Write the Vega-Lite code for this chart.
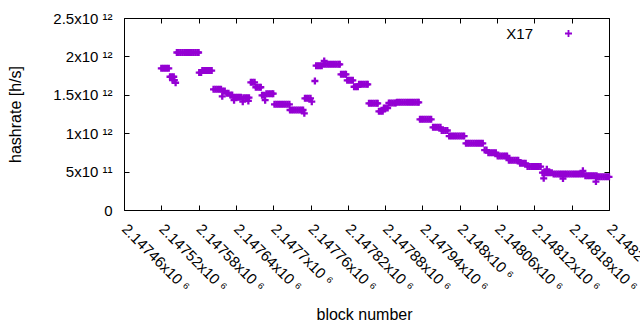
{
  "$schema": "https://vega.github.io/schema/vega-lite/v6.json",
  "width": 485,
  "height": 192,
  "autosize": "none",
  "padding": {"left": 124, "top": 18, "right": 31, "bottom": 120},
  "background": "white",
  "config": {
    "font": "Liberation Sans",
    "view": {"stroke": "black", "strokeWidth": 1},
    "axis": {
      "domain": false,
      "grid": false,
      "tickColor": "black",
      "tickSize": -5,
      "labelColor": "black",
      "titleColor": "black",
      "labelFontSize": 15,
      "titleFontSize": 16,
      "titleFontWeight": "normal",
      "labelOverlap": false,
      "labelBound": false,
      "labelFlush": false
    }
  },
  "data": {"values": [
    {"b": 2147520, "h": 1.845e12}, {"b": 2147523, "h": 1.845e12}, {"b": 2147526, "h": 1.845e12}, {"b": 2147529, "h": 1.845e12}, {"b": 2147532, "h": 1.845e12},
    {"b": 2147534, "h": 1.735e12}, {"b": 2147537, "h": 1.735e12}, {"b": 2147540, "h": 1.735e12},
    {"b": 2147538, "h": 1.69e12}, {"b": 2147541, "h": 1.69e12},
    {"b": 2147543, "h": 1.657e12},
    {"b": 2147545, "h": 2.051e12}, {"b": 2147548, "h": 2.051e12}, {"b": 2147551, "h": 2.051e12}, {"b": 2147554, "h": 2.051e12}, {"b": 2147557, "h": 2.051e12}, {"b": 2147560, "h": 2.051e12}, {"b": 2147563, "h": 2.051e12}, {"b": 2147566, "h": 2.051e12}, {"b": 2147569, "h": 2.051e12}, {"b": 2147572, "h": 2.051e12}, {"b": 2147575, "h": 2.051e12}, {"b": 2147578, "h": 2.051e12}, {"b": 2147580, "h": 2.051e12},
    {"b": 2147581, "h": 1.79e12}, {"b": 2147584, "h": 1.79e12},
    {"b": 2147586, "h": 1.816e12}, {"b": 2147589, "h": 1.816e12}, {"b": 2147592, "h": 1.816e12}, {"b": 2147595, "h": 1.816e12}, {"b": 2147598, "h": 1.816e12}, {"b": 2147601, "h": 1.816e12},
    {"b": 2147604, "h": 1.571e12}, {"b": 2147607, "h": 1.571e12}, {"b": 2147610, "h": 1.571e12}, {"b": 2147613, "h": 1.571e12}, {"b": 2147616, "h": 1.571e12},
    {"b": 2147618, "h": 1.48e12},
    {"b": 2147619, "h": 1.549e12}, {"b": 2147622, "h": 1.549e12},
    {"b": 2147625, "h": 1.519e12}, {"b": 2147628, "h": 1.519e12},
    {"b": 2147631, "h": 1.497e12}, {"b": 2147634, "h": 1.497e12},
    {"b": 2147636, "h": 1.467e12}, {"b": 2147639, "h": 1.467e12}, {"b": 2147642, "h": 1.467e12}, {"b": 2147645, "h": 1.467e12}, {"b": 2147648, "h": 1.467e12},
    {"b": 2147637, "h": 1.43e12},
    {"b": 2147651, "h": 1.41e12},
    {"b": 2147652, "h": 1.462e12}, {"b": 2147655, "h": 1.462e12}, {"b": 2147658, "h": 1.462e12}, {"b": 2147661, "h": 1.462e12},
    {"b": 2147660, "h": 1.42e12},
    {"b": 2147664, "h": 1.663e12}, {"b": 2147667, "h": 1.663e12}, {"b": 2147670, "h": 1.663e12},
    {"b": 2147672, "h": 1.598e12}, {"b": 2147675, "h": 1.598e12}, {"b": 2147678, "h": 1.598e12}, {"b": 2147680, "h": 1.598e12},
    {"b": 2147682, "h": 1.493e12}, {"b": 2147685, "h": 1.493e12},
    {"b": 2147687, "h": 1.43e12},
    {"b": 2147689, "h": 1.515e12}, {"b": 2147692, "h": 1.515e12}, {"b": 2147695, "h": 1.515e12}, {"b": 2147698, "h": 1.515e12}, {"b": 2147700, "h": 1.515e12},
    {"b": 2147702, "h": 1.376e12}, {"b": 2147705, "h": 1.376e12}, {"b": 2147708, "h": 1.376e12}, {"b": 2147711, "h": 1.376e12}, {"b": 2147714, "h": 1.376e12}, {"b": 2147717, "h": 1.376e12}, {"b": 2147720, "h": 1.376e12}, {"b": 2147723, "h": 1.376e12}, {"b": 2147726, "h": 1.376e12},
    {"b": 2147727, "h": 1.302e12}, {"b": 2147730, "h": 1.302e12}, {"b": 2147733, "h": 1.302e12}, {"b": 2147736, "h": 1.302e12}, {"b": 2147739, "h": 1.302e12}, {"b": 2147742, "h": 1.302e12}, {"b": 2147745, "h": 1.302e12}, {"b": 2147748, "h": 1.302e12},
    {"b": 2147750, "h": 1.259e12},
    {"b": 2147751, "h": 1.454e12}, {"b": 2147754, "h": 1.454e12}, {"b": 2147757, "h": 1.454e12}, {"b": 2147760, "h": 1.454e12},
    {"b": 2147762, "h": 1.41e12},
    {"b": 2147767, "h": 1.68e12},
    {"b": 2147769, "h": 1.879e12}, {"b": 2147772, "h": 1.879e12}, {"b": 2147775, "h": 1.879e12}, {"b": 2147778, "h": 1.879e12},
    {"b": 2147781, "h": 1.897e12}, {"b": 2147784, "h": 1.897e12}, {"b": 2147787, "h": 1.897e12}, {"b": 2147790, "h": 1.897e12}, {"b": 2147793, "h": 1.897e12}, {"b": 2147796, "h": 1.897e12}, {"b": 2147799, "h": 1.897e12}, {"b": 2147802, "h": 1.897e12}, {"b": 2147805, "h": 1.897e12}, {"b": 2147807, "h": 1.897e12},
    {"b": 2147782, "h": 1.94e12},
    {"b": 2147809, "h": 1.767e12}, {"b": 2147812, "h": 1.767e12}, {"b": 2147815, "h": 1.767e12}, {"b": 2147817, "h": 1.767e12},
    {"b": 2147819, "h": 1.689e12}, {"b": 2147822, "h": 1.689e12}, {"b": 2147825, "h": 1.689e12}, {"b": 2147828, "h": 1.689e12},
    {"b": 2147830, "h": 1.605e12}, {"b": 2147833, "h": 1.605e12}, {"b": 2147836, "h": 1.605e12},
    {"b": 2147838, "h": 1.637e12}, {"b": 2147841, "h": 1.637e12}, {"b": 2147844, "h": 1.637e12}, {"b": 2147847, "h": 1.637e12}, {"b": 2147850, "h": 1.637e12}, {"b": 2147852, "h": 1.637e12},
    {"b": 2147854, "h": 1.389e12}, {"b": 2147857, "h": 1.389e12}, {"b": 2147860, "h": 1.389e12}, {"b": 2147863, "h": 1.389e12}, {"b": 2147866, "h": 1.389e12}, {"b": 2147868, "h": 1.389e12},
    {"b": 2147870, "h": 1.285e12}, {"b": 2147873, "h": 1.285e12}, {"b": 2147876, "h": 1.285e12},
    {"b": 2147878, "h": 1.328e12}, {"b": 2147881, "h": 1.328e12}, {"b": 2147884, "h": 1.328e12},
    {"b": 2147886, "h": 1.393e12}, {"b": 2147889, "h": 1.393e12}, {"b": 2147892, "h": 1.393e12}, {"b": 2147895, "h": 1.393e12}, {"b": 2147897, "h": 1.393e12},
    {"b": 2147899, "h": 1.402e12}, {"b": 2147902, "h": 1.402e12}, {"b": 2147905, "h": 1.402e12}, {"b": 2147908, "h": 1.402e12}, {"b": 2147911, "h": 1.402e12}, {"b": 2147914, "h": 1.402e12}, {"b": 2147917, "h": 1.402e12}, {"b": 2147920, "h": 1.402e12}, {"b": 2147923, "h": 1.402e12}, {"b": 2147926, "h": 1.402e12}, {"b": 2147929, "h": 1.402e12}, {"b": 2147932, "h": 1.402e12}, {"b": 2147934, "h": 1.402e12},
    {"b": 2147936, "h": 1.181e12}, {"b": 2147939, "h": 1.181e12}, {"b": 2147942, "h": 1.181e12}, {"b": 2147945, "h": 1.181e12}, {"b": 2147948, "h": 1.181e12}, {"b": 2147951, "h": 1.181e12}, {"b": 2147954, "h": 1.181e12},
    {"b": 2147957, "h": 1.077e12}, {"b": 2147960, "h": 1.077e12}, {"b": 2147963, "h": 1.077e12}, {"b": 2147966, "h": 1.077e12}, {"b": 2147969, "h": 1.077e12},
    {"b": 2147971, "h": 1.035e12}, {"b": 2147974, "h": 1.035e12}, {"b": 2147977, "h": 1.035e12}, {"b": 2147980, "h": 1.035e12},
    {"b": 2147983, "h": 0.963e12}, {"b": 2147986, "h": 0.963e12}, {"b": 2147989, "h": 0.963e12}, {"b": 2147992, "h": 0.963e12}, {"b": 2147995, "h": 0.963e12}, {"b": 2147998, "h": 0.963e12}, {"b": 2148001, "h": 0.963e12}, {"b": 2148004, "h": 0.963e12}, {"b": 2148007, "h": 0.963e12},
    {"b": 2148010, "h": 0.868e12}, {"b": 2148013, "h": 0.868e12}, {"b": 2148016, "h": 0.868e12}, {"b": 2148019, "h": 0.868e12}, {"b": 2148022, "h": 0.868e12}, {"b": 2148025, "h": 0.868e12}, {"b": 2148028, "h": 0.868e12}, {"b": 2148031, "h": 0.868e12}, {"b": 2148034, "h": 0.868e12}, {"b": 2148037, "h": 0.868e12},
    {"b": 2148040, "h": 0.78e12}, {"b": 2148043, "h": 0.78e12},
    {"b": 2148046, "h": 0.746e12}, {"b": 2148049, "h": 0.746e12}, {"b": 2148052, "h": 0.746e12}, {"b": 2148055, "h": 0.746e12}, {"b": 2148058, "h": 0.746e12},
    {"b": 2148061, "h": 0.703e12}, {"b": 2148064, "h": 0.703e12}, {"b": 2148067, "h": 0.703e12}, {"b": 2148070, "h": 0.703e12}, {"b": 2148073, "h": 0.703e12}, {"b": 2148076, "h": 0.703e12},
    {"b": 2148079, "h": 0.649e12}, {"b": 2148082, "h": 0.649e12}, {"b": 2148085, "h": 0.649e12}, {"b": 2148088, "h": 0.649e12}, {"b": 2148091, "h": 0.649e12}, {"b": 2148094, "h": 0.649e12},
    {"b": 2148097, "h": 0.608e12}, {"b": 2148100, "h": 0.608e12}, {"b": 2148103, "h": 0.608e12}, {"b": 2148106, "h": 0.608e12},
    {"b": 2148109, "h": 0.566e12}, {"b": 2148112, "h": 0.566e12}, {"b": 2148115, "h": 0.566e12}, {"b": 2148118, "h": 0.566e12}, {"b": 2148121, "h": 0.566e12}, {"b": 2148124, "h": 0.566e12}, {"b": 2148127, "h": 0.566e12}, {"b": 2148130, "h": 0.566e12},
    {"b": 2148133, "h": 0.486e12}, {"b": 2148136, "h": 0.486e12}, {"b": 2148139, "h": 0.486e12}, {"b": 2148142, "h": 0.486e12}, {"b": 2148145, "h": 0.486e12}, {"b": 2148148, "h": 0.486e12},
    {"b": 2148135, "h": 0.413e12}, {"b": 2148140, "h": 0.53e12},
    {"b": 2148151, "h": 0.469e12}, {"b": 2148154, "h": 0.469e12}, {"b": 2148157, "h": 0.469e12}, {"b": 2148160, "h": 0.469e12}, {"b": 2148163, "h": 0.469e12}, {"b": 2148166, "h": 0.469e12}, {"b": 2148169, "h": 0.469e12}, {"b": 2148172, "h": 0.469e12}, {"b": 2148175, "h": 0.469e12}, {"b": 2148178, "h": 0.469e12}, {"b": 2148181, "h": 0.469e12}, {"b": 2148184, "h": 0.469e12}, {"b": 2148187, "h": 0.469e12}, {"b": 2148190, "h": 0.469e12}, {"b": 2148193, "h": 0.469e12}, {"b": 2148196, "h": 0.469e12}, {"b": 2148199, "h": 0.469e12},
    {"b": 2148166, "h": 0.41e12}, {"b": 2148198, "h": 0.51e12},
    {"b": 2148202, "h": 0.445e12}, {"b": 2148205, "h": 0.445e12}, {"b": 2148208, "h": 0.445e12}, {"b": 2148211, "h": 0.445e12}, {"b": 2148214, "h": 0.445e12}, {"b": 2148217, "h": 0.445e12}, {"b": 2148220, "h": 0.445e12},
    {"b": 2148219, "h": 0.37e12},
    {"b": 2148222, "h": 0.432e12}, {"b": 2148225, "h": 0.432e12}, {"b": 2148228, "h": 0.432e12}, {"b": 2148231, "h": 0.432e12}, {"b": 2148234, "h": 0.432e12}, {"b": 2148237, "h": 0.432e12}, {"b": 2148240, "h": 0.432e12}
  ]},
  "layer": [
    {
      "mark": {"type": "point", "shape": "M-1,0H1M0,-1V1", "size": 49, "filled": false, "strokeWidth": 2.3, "opacity": 1},
      "encoding": {
        "x": {
          "field": "b", "type": "quantitative",
          "scale": {"domain": [2147460, 2148240], "nice": false, "zero": false},
          "axis": {
            "orient": "bottom",
            "values": [2147460, 2147520, 2147580, 2147640, 2147700, 2147760, 2147820, 2147880, 2147940, 2148000, 2148060, 2148120, 2148180, 2148240],
            "labelExpr": "format(datum.value/1e6, '.6~g') + 'x10 ⁶'",
            "labelAngle": 45, "labelAlign": "left", "labelBaseline": "middle", "labelPadding": 21,
            "title": "block number", "titleX": 240, "titleY": 104, "titleBaseline": "middle", "titleAlign": "center"
          }
        },
        "y": {
          "field": "h", "type": "quantitative",
          "scale": {"domain": [0, 2.5e12], "nice": false},
          "axis": {
            "orient": "left",
            "values": [0, 5e11, 1e12, 1.5e12, 2e12, 2.5e12],
            "labelExpr": "datum.value == 0 ? '0' : (datum.value < 1e12 ? format(datum.value/1e11, '~g') + 'x10 ¹¹' : format(datum.value/1e12, '~g') + 'x10 ¹²')",
            "labelPadding": 17,
            "title": "hashrate [h/s]", "titleX": -109, "titleY": 96, "titleAngle": -90, "titleBaseline": "middle", "titleAlign": "center"
          }
        },
        "color": {
          "datum": "X17", "type": "nominal",
          "scale": {"range": ["#9400d3"]},
          "legend": {
            "title": null, "orient": "none", "legendX": 437, "legendY": 8,
            "symbolType": "M-1,0H1M0,-1V1", "symbolSize": 49, "symbolStrokeWidth": 1.8,
            "labelFontSize": 15, "labelColor": "black", "labelAlign": "right", "labelOffset": -43
          }
        }
      }
    },
    {
      "mark": {"type": "point", "opacity": 0},
      "encoding": {
        "x": {"field": "b", "type": "quantitative", "axis": {"orient": "top", "labels": false, "title": null, "values": [2147460, 2147520, 2147580, 2147640, 2147700, 2147760, 2147820, 2147880, 2147940, 2148000, 2148060, 2148120, 2148180, 2148240]}},
        "y": {"field": "h", "type": "quantitative", "axis": {"orient": "right", "labels": false, "title": null, "values": [0, 5e11, 1e12, 1.5e12, 2e12, 2.5e12]}}
      }
    }
  ],
  "resolve": {"axis": {"x": "independent", "y": "independent"}}
}
